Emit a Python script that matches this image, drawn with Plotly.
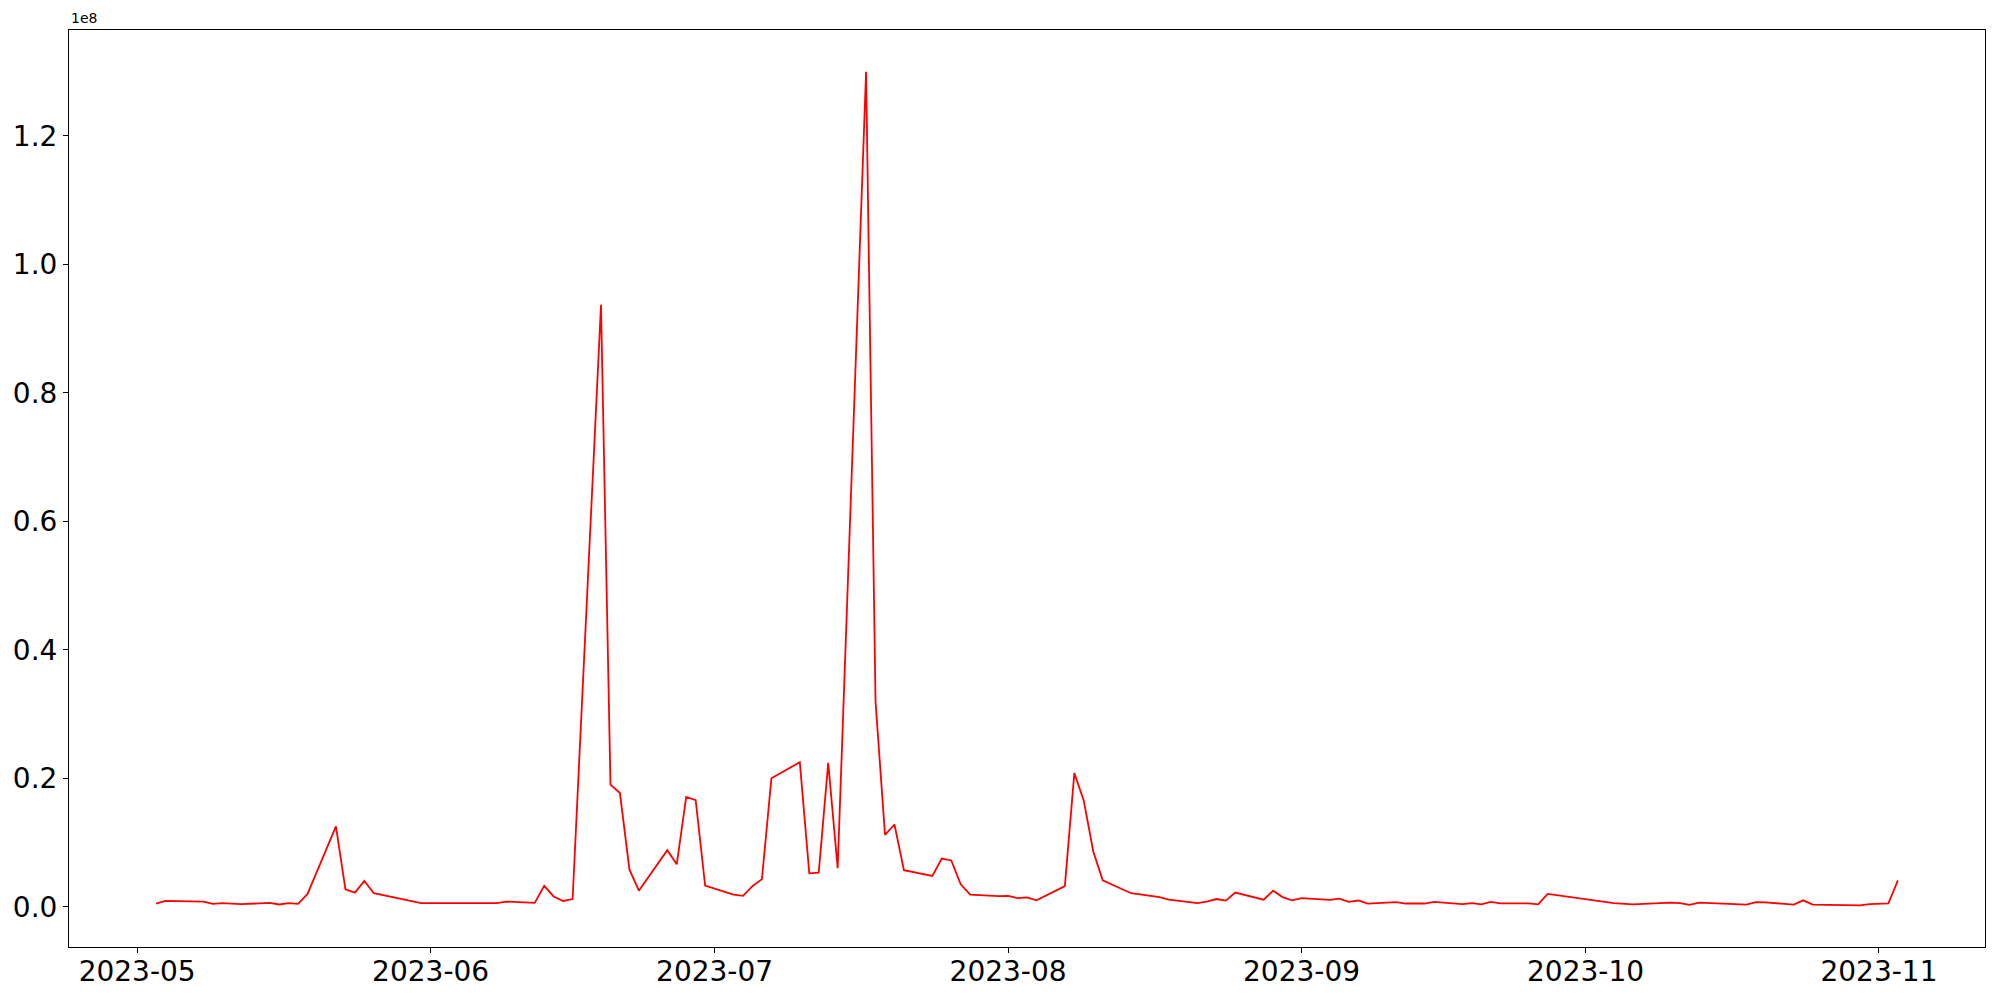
import plotly.graph_objects as go
import pandas as pd

# Data (values in millions)
dates = [
    "2023-05-03", "2023-05-04", "2023-05-08", "2023-05-09", "2023-05-10", "2023-05-12",
    "2023-05-15", "2023-05-16", "2023-05-17", "2023-05-18", "2023-05-19", "2023-05-22",
    "2023-05-23", "2023-05-24", "2023-05-25", "2023-05-26", "2023-05-31", "2023-06-01",
    "2023-06-02", "2023-06-07", "2023-06-08", "2023-06-09", "2023-06-12", "2023-06-13",
    "2023-06-14", "2023-06-15", "2023-06-16", "2023-06-19", "2023-06-20", "2023-06-21",
    "2023-06-22", "2023-06-23", "2023-06-26", "2023-06-27", "2023-06-28", "2023-06-29",
    "2023-06-30", "2023-07-03", "2023-07-04", "2023-07-05", "2023-07-06", "2023-07-07",
    "2023-07-10", "2023-07-11", "2023-07-12", "2023-07-13", "2023-07-14", "2023-07-17",
    "2023-07-18", "2023-07-19", "2023-07-20", "2023-07-21", "2023-07-24", "2023-07-25",
    "2023-07-26", "2023-07-27", "2023-07-28", "2023-07-31", "2023-08-01", "2023-08-02",
    "2023-08-03", "2023-08-04", "2023-08-07", "2023-08-08", "2023-08-09", "2023-08-10",
    "2023-08-11", "2023-08-14", "2023-08-15", "2023-08-17", "2023-08-18", "2023-08-21",
    "2023-08-22", "2023-08-23", "2023-08-24", "2023-08-25", "2023-08-28", "2023-08-29",
    "2023-08-30", "2023-08-31", "2023-09-01", "2023-09-04", "2023-09-05", "2023-09-06",
    "2023-09-07", "2023-09-08", "2023-09-11", "2023-09-12", "2023-09-14", "2023-09-15",
    "2023-09-18", "2023-09-19", "2023-09-20", "2023-09-21", "2023-09-22", "2023-09-25",
    "2023-09-26", "2023-09-27", "2023-10-04", "2023-10-06", "2023-10-10", "2023-10-11",
    "2023-10-12", "2023-10-13", "2023-10-18", "2023-10-19", "2023-10-20", "2023-10-23",
    "2023-10-24", "2023-10-25", "2023-10-30", "2023-10-31", "2023-11-02", "2023-11-03",
]
values_m = [
    0.5, 0.9, 0.8, 0.45, 0.55, 0.4,
    0.6, 0.35, 0.55, 0.45, 2.0, 12.5,
    2.7, 2.2, 4.0, 2.1, 0.55, 0.55,
    0.65, 0.65, 0.55, 0.8, 0.6, 3.25,
    1.6, 0.9, 1.2, 93.7, 19.0, 17.7,
    5.8, 2.5, 8.8, 6.6, 17.1, 16.6,
    3.3, 1.9, 1.7, 3.2, 4.3, 20.0,
    22.5, 5.2, 5.3, 22.4, 6.0, 130.0,
    31.9, 11.2, 12.8, 5.7, 4.8, 7.5,
    7.2, 3.5, 1.9, 1.65, 1.7, 1.35,
    1.45, 1.0, 3.2, 20.8, 16.5, 8.6,
    4.1, 2.1, 1.9, 1.5, 1.1, 0.55,
    0.8, 1.2, 0.95, 2.2, 1.1, 2.5,
    1.5, 1.0, 1.35, 1.07, 1.25, 0.75,
    0.97, 0.48, 0.72, 0.5, 0.5, 0.76,
    0.42, 0.56, 0.37, 0.74, 0.53, 0.53,
    0.38, 2.0, 0.56, 0.38, 0.65, 0.55,
    0.28, 0.65, 0.33, 0.72, 0.68, 0.33,
    1.0, 0.33, 0.22, 0.42, 0.52, 4.1,
]

x_tick_vals = ["2023-05-01", "2023-06-01", "2023-07-01", "2023-08-01",
               "2023-09-01", "2023-10-01", "2023-11-01"]
x_tick_text = ["2023-05", "2023-06", "2023-07", "2023-08", "2023-09", "2023-10", "2023-11"]
y_tick_vals = [0, 2e7, 4e7, 6e7, 8e7, 1e8, 1.2e8]
y_tick_text = ["0.0", "0.2", "0.4", "0.6", "0.8", "1.0", "1.2"]
offset_text = "1e8"

x = pd.to_datetime(pd.Series(dates))
y = [v * 1e6 for v in values_m]

# matplotlib-like 5% margins
xmin, xmax = x.min(), x.max()
xpad = (xmax - xmin) * 0.05
ymin, ymax = min(y), max(y)
ypad = (ymax - ymin) * 0.05

fig = go.Figure()
fig.add_trace(go.Scatter(x=x, y=y, mode="lines",
                         line=dict(color="#ff0000", width=1.8),
                         showlegend=False, hoverinfo="x+y"))

axis_common = dict(showline=True, linecolor="black", linewidth=1.1, mirror=True,
                   ticks="outside", ticklen=5, tickwidth=1.1, tickcolor="black",
                   showgrid=False, zeroline=False,
                   tickfont=dict(family="DejaVu Sans", size=28, color="black"),
                   automargin=False)

fig.update_layout(
    width=2000, height=1000,
    margin=dict(l=69, r=15, t=30, b=53),
    paper_bgcolor="white", plot_bgcolor="white",
    font=dict(family="DejaVu Sans", color="black"),
    xaxis=dict(range=[xmin - xpad, xmax + xpad], tickmode="array",
               tickvals=x_tick_vals, ticktext=x_tick_text,
               ticklabelstandoff=-6, **axis_common),
    yaxis=dict(range=[ymin - ypad, ymax + ypad], tickmode="array",
               tickvals=y_tick_vals, ticktext=y_tick_text, **axis_common),
    annotations=[dict(text=offset_text, xref="paper", yref="paper", x=0, y=1,
                      xanchor="left", yanchor="bottom", yshift=2, showarrow=False,
                      font=dict(family="DejaVu Sans", size=14, color="black"))],
)

fig.write_html("out.html", config={"displayModeBar": False},
               post_script="document.body.style.margin='0';")
